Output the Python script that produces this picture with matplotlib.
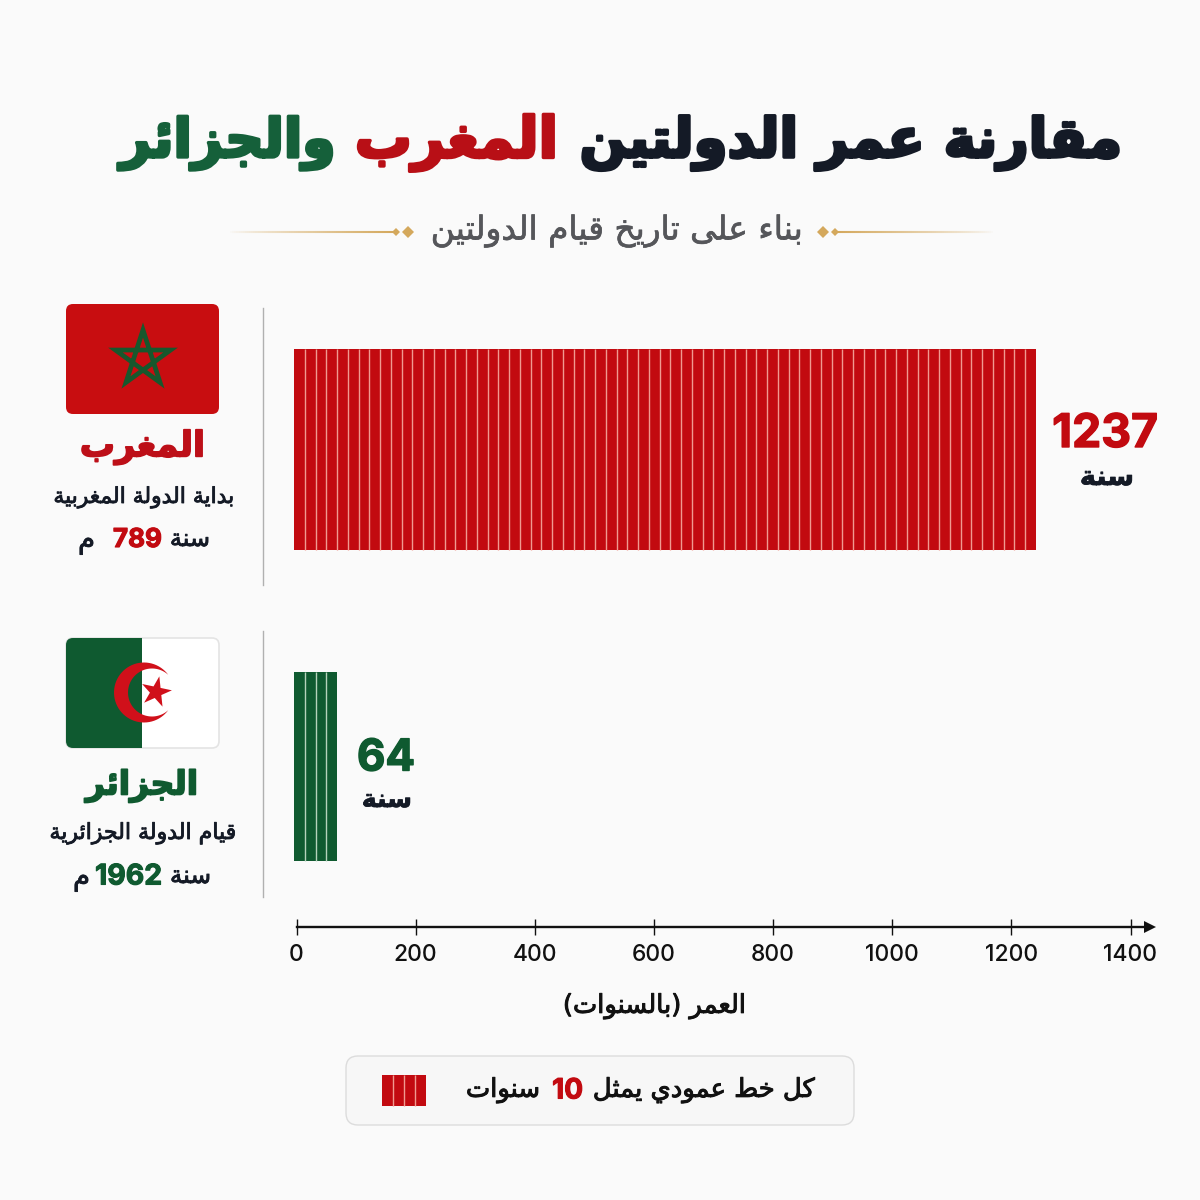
import unicodedata
import numpy as np
import matplotlib
matplotlib.use("Agg")
import matplotlib.pyplot as plt
import matplotlib.patheffects as pe
from matplotlib.patches import FancyBboxPatch, Polygon, Rectangle
from matplotlib.collections import LineCollection

# chart data
countries = ["المغرب", "الجزائر"]
ages = [1237, 64]
startYears = [789, 1962]
startTexts = ["بداية الدولة المغربية", "قيام الدولة الجزائرية"]
stripeCounts = [69, 4]
xTicks = [0, 200, 400, 600, 800, 1000, 1200, 1400]
legendStripes = 4
yearsPerStripe = 10

RED = "#c20a10"
GREEN = "#0f5a30"
DARK = "#141a26"
GOLD = "#d4a85c"
BG = "#fafafa"
AR = "DejaVu Sans"
NUM = "Inter"

# Arabic presentation forms, matplotlib does no shaping by itself
forms = {}
for cp in range(0xFE80, 0xFEFD):
    parts = unicodedata.decomposition(chr(cp)).split()
    if len(parts) == 2:
        forms.setdefault(chr(int(parts[1], 16)), {})[parts[0]] = chr(cp)


def Shape(text):
    out = []
    for i, ch in enumerate(text):
        if ch not in forms:
            out.append({"(": ")", ")": "("}.get(ch, ch))
            continue
        prev = text[i - 1] if i > 0 else ""
        nxt = text[i + 1] if i + 1 < len(text) else ""
        joinPrev = prev in forms and "<initial>" in forms[prev]
        joinNext = nxt in forms and "<initial>" in forms[ch]
        if joinPrev and joinNext:
            key = "<medial>"
        elif joinPrev:
            key = "<final>"
        elif joinNext:
            key = "<initial>"
        else:
            key = "<isolated>"
        out.append(forms[ch].get(key, ch))
    return "".join(reversed(out))


fig = plt.figure(figsize=(12, 12), dpi=100, facecolor=BG)
bg = fig.add_axes([0, 0, 1, 1])
bg.set_xlim(0, 1200)
bg.set_ylim(1200, 0)
bg.axis("off")
renderer = fig.canvas.get_renderer()


def FitText(text, x0, x1, yc, color=DARK, weight="bold", family=AR, stroke=0.0):
    # scale the font so the text covers x0..x1 in pixels
    t = bg.text((x0 + x1) / 2, yc, text, color=color, fontweight=weight, family=family,
                fontsize=20, ha="center", va="center")
    width = t.get_window_extent(renderer).width
    t.set_fontsize(20 * (x1 - x0) / width)
    if stroke > 0:
        t.set_path_effects([pe.withStroke(linewidth=stroke, foreground=color)])
    return t


def StarPoints(cx, cy, r, startDeg, step=2):
    angles = np.radians(startDeg - 72 * step * np.arange(5))
    return np.column_stack([cx + r * np.cos(angles), cy - r * np.sin(angles)])


def StarFill(cx, cy, r, startDeg, color):
    angles = np.radians(startDeg - 36 * np.arange(10))
    radii = np.where(np.arange(10) % 2 == 0, r, r * 0.382)
    pts = np.column_stack([cx + radii * np.cos(angles), cy - radii * np.sin(angles)])
    bg.add_patch(Polygon(pts, closed=True, facecolor=color, edgecolor="none", zorder=4))


def RoundBox(x0, y0, w, h, face, edge="none", lw=0, pad=7, zorder=2):
    box = FancyBboxPatch((x0 + pad, y0 + pad), w - 2 * pad, h - 2 * pad,
                         boxstyle="round,pad=%d,rounding_size=%d" % (pad, pad),
                         facecolor=face, edgecolor=edge, linewidth=lw, zorder=zorder)
    bg.add_patch(box)
    return box


def DrawFlags():
    # Morocco
    RoundBox(66, 304, 153, 110, "#c80d10")
    star = StarPoints(143, 359, 29, 90)
    bg.add_patch(Polygon(star, closed=True, fill=False, edgecolor="#17582d", linewidth=3.4,
                         joinstyle="miter", zorder=3))
    # Algeria
    RoundBox(66, 638, 153, 110, "#ffffff", edge="#e4e4e4", lw=1.2)
    clip = RoundBox(66, 638, 153, 110, "none")
    green = Rectangle((66, 638), 76, 110, facecolor=GREEN, edgecolor="none", zorder=3)
    bg.add_patch(green)
    green.set_clip_path(clip)
    outer = np.radians(np.linspace(36, 324, 60))
    inner = np.radians(np.linspace(312.6, 47.4, 60))
    xs = np.concatenate([144 + 30 * np.cos(outer), 152 + 24 * np.cos(inner)])
    ys = np.concatenate([692.5 + 30 * np.sin(outer), 692.5 + 24 * np.sin(inner)])
    bg.add_patch(Polygon(np.column_stack([xs, ys]), closed=True, facecolor="#d0101a",
                         edgecolor="none", zorder=4))
    StarFill(156, 692, 16, 78, "#d0101a")


def DrawHeader():
    FitText(Shape("مقارنة عمر الدولتين"), 580, 1122, 143, stroke=2.4)
    FitText(Shape("المغرب"), 355, 558, 143, color="#b80f16", stroke=2.4)
    FitText(Shape("والجزائر"), 120, 335, 143, color="#15603a", stroke=2.4)
    FitText(Shape("بناء على تاريخ قيام الدولتين"), 431, 803, 231, color="#55565a", weight="normal", stroke=0.5)
    # gold rules fading outwards
    for start, end, big, small in [(395, 228, 408, 396), (835, 995, 823, 835)]:
        xs = np.linspace(start, end, 80)
        segs = [[(xs[i], 231.5), (xs[i + 1], 231.5)] for i in range(79)]
        alphas = np.linspace(1, 0, 79) ** 0.8
        colors = [matplotlib.colors.to_rgba(GOLD, a) for a in alphas]
        bg.add_collection(LineCollection(segs, colors=colors, linewidths=1.5))
        bg.plot(big, 231.5, "D", color=GOLD, markersize=6.5, markeredgewidth=0)
        bg.plot(small, 231.5, "D", color=GOLD, markersize=4, markeredgewidth=0)


def DrawSideLabels():
    bg.plot([263, 263], [308, 585], color="#b0b0b0", lw=1)
    bg.plot([263, 263], [631, 897], color="#b0b0b0", lw=1)
    FitText(Shape(countries[0]), 80, 205, 447, color="#bd0f18", stroke=1.3)
    FitText(Shape(startTexts[0]), 53, 234, 497, weight="normal", stroke=0.6)
    FitText(Shape("سنة"), 170, 210, 539, weight="normal", stroke=0.6)
    FitText(str(startYears[0]), 113, 162, 540, color=RED, family=NUM, stroke=0.8)
    FitText(Shape("م"), 78, 95, 541, weight="normal", stroke=0.6)
    FitText(Shape(countries[1]), 86, 198, 786, color=GREEN, stroke=1.3)
    FitText(Shape(startTexts[1]), 49, 236, 833, weight="normal", stroke=0.6)
    FitText(Shape("سنة"), 170, 211, 876, weight="normal", stroke=0.6)
    FitText(str(startYears[1]), 95, 162, 877, color=GREEN, family=NUM, stroke=0.8)
    FitText(Shape("م"), 73, 90, 878, weight="normal", stroke=0.6)
    # values next to the bars
    FitText(str(ages[0]), 1052, 1158, 435, color=RED, family=NUM, stroke=1.0)
    FitText(Shape("سنة"), 1080, 1134, 478, stroke=0.6)
    FitText(str(ages[1]), 357, 415, 759, color=GREEN, family=NUM, stroke=1.0)
    FitText(Shape("سنة"), 362, 412, 800, stroke=0.6)


def DrawChart():
    # axes placed so that 0 sits at x=296.5 and 1400 at x=1130.5
    pxPerYear = (1130.5 - 296.5) / 1400
    ax = fig.add_axes([296.5 / 1200, (1200 - 927) / 1200, (1150 - 296.5) / 1200, (927 - 300) / 1200])
    ax.patch.set_alpha(0)
    ax.set_xlim(0, (1150 - 296.5) / pxPerYear)
    ax.set_ylim(627, 0)
    pad = 4
    centers = [149.5, 466.5]
    heights = [201, 189]
    colors = [RED, GREEN]
    lineColors = ["#f09a90", "#b5d3bb"]
    for age, yc, h, c, lc, n in zip(ages, centers, heights, colors, lineColors, stripeCounts):
        ax.barh(yc, age + 2 * pad, left=-pad, height=h, color=c, clip_on=False)
        edges = np.linspace(-pad, age + pad, n + 1)[1:-1]
        ax.vlines(edges, yc - h / 2, yc + h / 2, color=lc, lw=1.0, clip_on=False)
    for side in ["top", "left", "right"]:
        ax.spines[side].set_visible(False)
    ax.spines["bottom"].set_linewidth(1.7)
    ax.spines["bottom"].set_color("#111111")
    ax.set_yticks([])
    ax.set_xticks(xTicks)
    ax.set_xticklabels([str(v) for v in xTicks], family=NUM, fontsize=16.5, fontweight="medium", color="#111111")
    ax.tick_params(axis="x", direction="inout", length=11, width=1, color="#111111", pad=7)
    ax.plot(1, 0, ">", color="#111111", markersize=9, markeredgewidth=0, transform=ax.transAxes, clip_on=False)
    FitText(Shape("العمر (بالسنوات)"), 563, 746, 1006, color="#111111", weight="normal", stroke=0.7)


def DrawLegend():
    RoundBox(346, 1056, 508, 69, "#f7f7f7", edge="#dcdcdc", lw=1, pad=12, zorder=1)
    bg.add_patch(Rectangle((382, 1075), 44, 31, facecolor=RED, edgecolor="none", zorder=2))
    edges = np.linspace(382, 426, legendStripes + 1)[1:-1]
    bg.vlines(edges, 1075, 1106, color="#f09a90", lw=1, zorder=3)
    FitText(Shape("كل خط عمودي يمثل"), 593, 815, 1090, color="#111111", weight="normal", stroke=0.7)
    FitText(str(yearsPerStripe), 552, 583, 1091, color=RED, family=NUM, stroke=0.8)
    FitText(Shape("سنوات"), 466, 540, 1090, color="#111111", weight="normal", stroke=0.7)


def main():
    DrawHeader()
    DrawFlags()
    DrawSideLabels()
    DrawChart()
    DrawLegend()
    bg.set_xlim(0, 1200)
    bg.set_ylim(1200, 0)
    fig.savefig("out.png", dpi=100, facecolor=BG)


main()
